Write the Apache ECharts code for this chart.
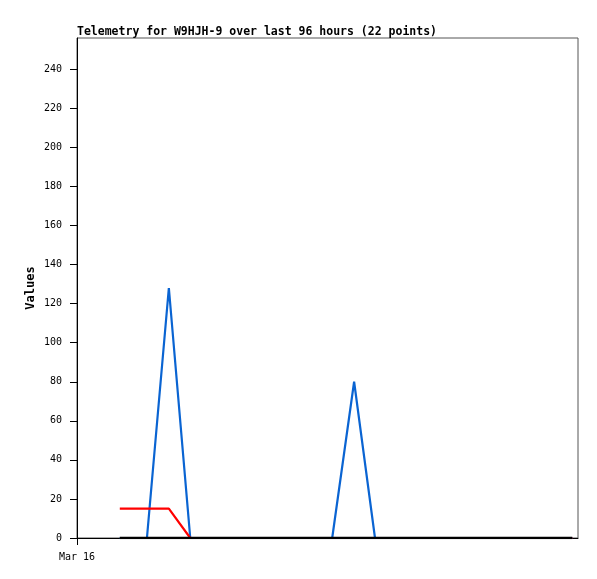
<!DOCTYPE html>
<html>
<head>
<meta charset="utf-8">
<script src="https://cdn.jsdelivr.net/npm/echarts@6/dist/echarts.min.js"></script>
<style>
  html, body { margin: 0; padding: 0; background: #fff; }
  #chart { width: 597px; height: 579px; }
</style>
</head>
<body>
<div id="chart"></div>
<script>
// hours since Mar 16 00:00
var hours = [8.2, 13.4, 17.6, 21.7, 25.6, 29.5, 33.4, 37.2, 41.1, 45.0, 48.9,
             53.1, 57.1, 61.3, 65.5, 69.7, 73.9, 78.1, 82.3, 86.5, 90.7, 94.9];
var blueValues  = [0, 0, 128, 0, 0, 0, 0, 0, 0, 0, 0, 80, 0, 0, 0, 0, 0, 0, 0, 0, 0, 0];
var redValues   = [15, 15, 15, 0, 0, 0, 0, 0, 0, 0, 0, 0, 0, 0, 0, 0, 0, 0, 0, 0, 0, 0];
var blackValues = [0, 0, 0, 0, 0, 0, 0, 0, 0, 0, 0, 0, 0, 0, 0, 0, 0, 0, 0, 0, 0, 0];
var yTicks = [0, 20, 40, 60, 80, 100, 120, 140, 160, 180, 200, 220, 240];
var xTicks = [0];
var xTickLabels = ['Mar 16'];

function pairs(vals) {
  return vals.map(function (v, i) { return [hours[i], v]; });
}

var mono = 'DejaVu Sans Mono';
var chart = echarts.init(document.getElementById('chart'));
var option = {
  animation: false,
  title: {
    text: 'Telemetry for W9HJH-9 over last 96 hours (22 points)',
    left: 77,
    top: 26,
    padding: 0,
    textStyle: { fontFamily: mono, fontSize: 11.5, fontWeight: 'bold', color: '#000' }
  },
  grid: {
    left: 77, right: 19, top: 38, bottom: 41,
    show: true, borderColor: '#555', borderWidth: 1, backgroundColor: 'transparent'
  },
  xAxis: {
    type: 'value',
    min: 0,
    max: 96,
    splitLine: { show: false },
    axisLine: { lineStyle: { color: '#000', width: 1 } },
    axisTick: { customValues: xTicks, length: 7, lineStyle: { color: '#000' } },
    axisLabel: {
      customValues: xTicks,
      formatter: function (v) { return xTickLabels[xTicks.indexOf(v)] || ''; },
      fontFamily: mono, fontSize: 10, color: '#000', margin: 14
    }
  },
  yAxis: {
    type: 'value',
    min: 0,
    max: 256,
    name: 'Values',
    nameLocation: 'middle',
    nameGap: 40,
    nameMoveOverlap: false,
    nameTextStyle: { fontFamily: mono, fontSize: 12, fontWeight: 'bold', color: '#000' },
    splitLine: { show: false },
    axisLine: { show: true, lineStyle: { color: '#000', width: 1 } },
    axisTick: { show: true, customValues: yTicks, length: 7, lineStyle: { color: '#000' } },
    axisLabel: {
      customValues: yTicks,
      fontFamily: mono, fontSize: 10, color: '#000', margin: 15
    }
  },
  series: [
    {
      type: 'line', data: pairs(blueValues), showSymbol: false,
      lineStyle: { color: '#0a64d2', width: 2.2 }, z: 2
    },
    {
      type: 'line', data: pairs(redValues), showSymbol: false,
      lineStyle: { color: '#ff0000', width: 2.2 }, z: 3
    },
    {
      type: 'line', data: pairs(blackValues), showSymbol: false,
      lineStyle: { color: '#000', width: 2.5 }, z: 4
    }
  ]
};
chart.setOption(option);
</script>
</body>
</html>
